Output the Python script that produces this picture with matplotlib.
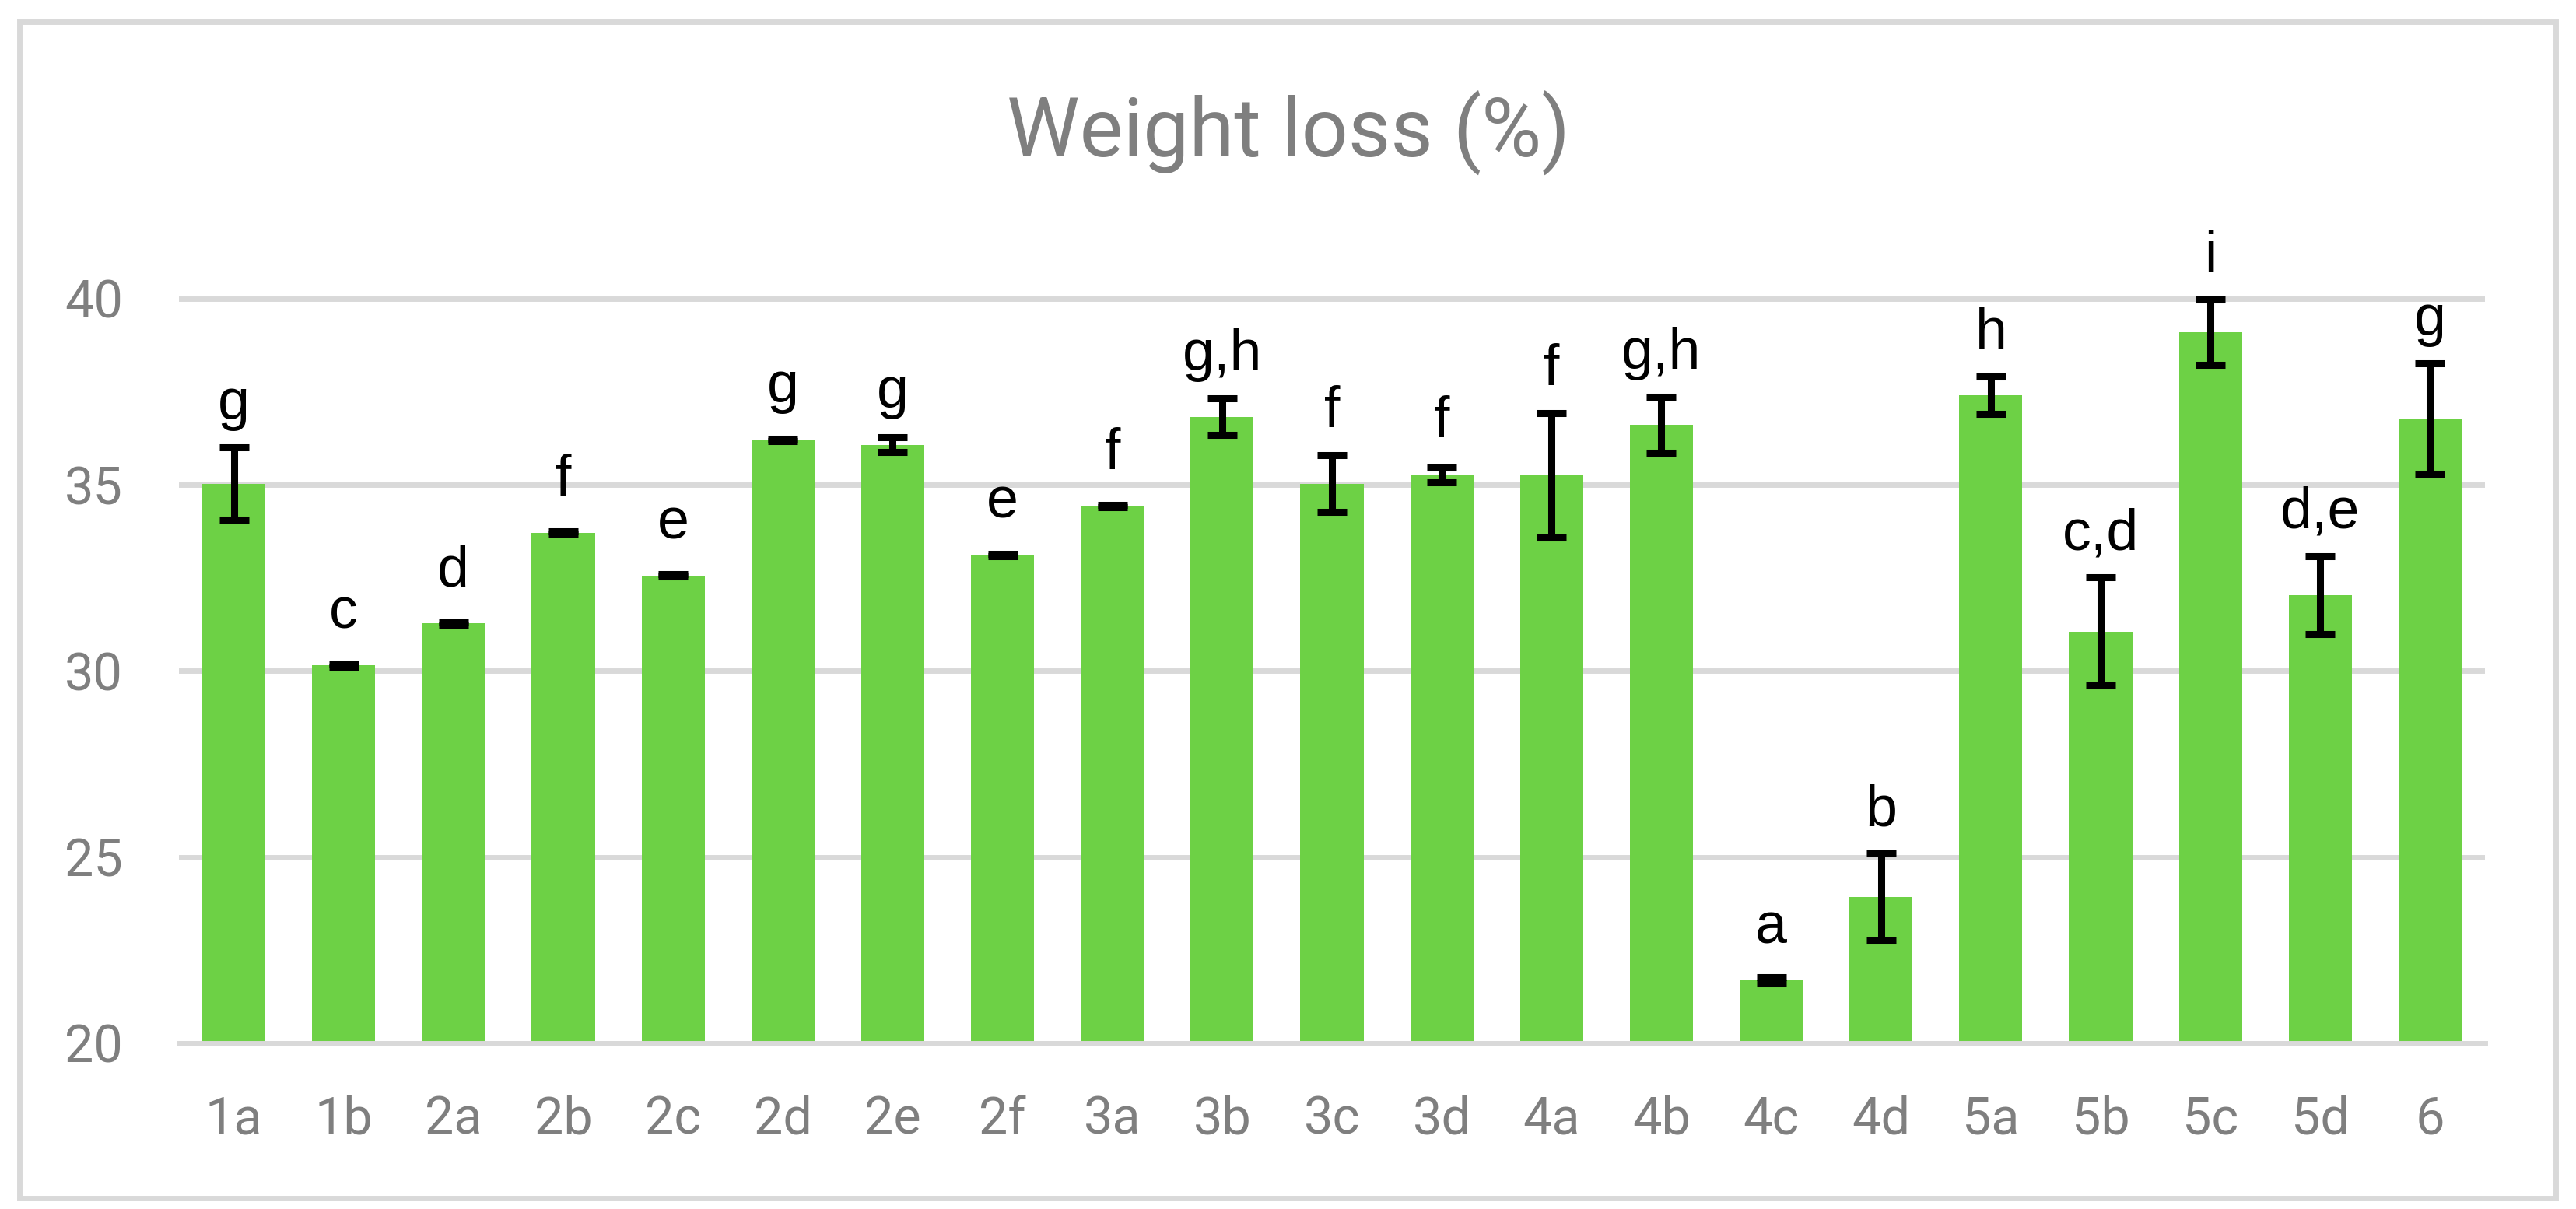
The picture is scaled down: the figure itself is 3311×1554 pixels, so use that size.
import matplotlib
matplotlib.use("Agg")
import matplotlib.pyplot as plt
from matplotlib.patches import Rectangle
import numpy as np

categories = ['1a', '1b', '2a', '2b', '2c', '2d', '2e', '2f', '3a', '3b', '3c',
              '3d', '4a', '4b', '4c', '4d', '5a', '5b', '5c', '5d', '6']
weight_loss = [35.03, 30.15, 31.28, 33.71, 32.56, 36.21, 36.07, 33.12, 34.43, 36.83, 35.03,
               35.27, 35.25, 36.61, 21.69, 23.93, 37.41, 31.06, 39.10, 32.04, 36.78]
errors = [0.97, 0.03, 0.03, 0.03, 0.03, 0.03, 0.20, 0.03, 0.03, 0.50, 0.76,
          0.20, 1.67, 0.75, 0.08, 1.17, 0.50, 1.45, 0.88, 1.05, 1.48]
letters = ['g', 'c', 'd', 'f', 'e', 'g', 'g', 'e', 'f', 'g,h', 'f',
           'f', 'f', 'g,h', 'a', 'b', 'h', 'c,d', 'i', 'd,e', 'g']
yticks = [20, 25, 30, 35, 40]

W, H, DPI = 3312, 1554, 100
fig = plt.figure(figsize=(W / DPI, H / DPI), dpi=DPI)
fig.patch.set_facecolor('white')

# outer chart border
fig.patches.append(Rectangle((25 / W, 1 - 1540 / H), (3285 - 25) / W, (1540 - 28) / H,
                             transform=fig.transFigure, fill=False,
                             edgecolor='#D9D9D9', linewidth=5))

ax = fig.add_axes([230 / W, 1 - 1341 / H, (3194 - 230) / W, (1341 - 312) / H])
x = np.arange(len(categories))
ax.bar(x, weight_loss, width=0.575, color='#6DD145', zorder=2)
ax.errorbar(x, weight_loss, yerr=errors, fmt='none', ecolor='black',
            elinewidth=6.5, capsize=13.7, capthick=6.5, zorder=3)

for xi, v, e, lab in zip(x, weight_loss, errors, letters):
    y = max(v + 1.0, v + e + 0.75)
    ax.text(xi, y, lab, ha='center', va='baseline', fontsize=53,
            family='Liberation Sans', color='black', zorder=4)

ax.set_xlim(-0.5, len(categories) - 0.5)
ax.set_ylim(20, 41.5)
ax.set_yticks(yticks)
ax.set_yticklabels([str(t) for t in yticks])
ax.set_xticks(x)
ax.set_xticklabels(categories)
ax.yaxis.grid(True, color='#D9D9D9', linewidth=5, zorder=0)
ax.set_axisbelow(True)
for s in ['top', 'right', 'left']:
    ax.spines[s].set_visible(False)
ax.spines['bottom'].set_color('#D9D9D9')
ax.spines['bottom'].set_linewidth(5)
ax.tick_params(axis='both', length=0, labelsize=48, labelcolor='#7F7F7F')
ax.tick_params(axis='y', pad=52)
ax.tick_params(axis='x', pad=48)
for lbl in ax.get_xticklabels() + ax.get_yticklabels():
    lbl.set_family('Roboto')

fig.text(0.5, 1 - 202 / H, 'Weight loss (%)', ha='center', va='baseline',
         fontsize=76, color='#7F7F7F', family='Roboto')

fig.savefig('out.png', dpi=DPI)
